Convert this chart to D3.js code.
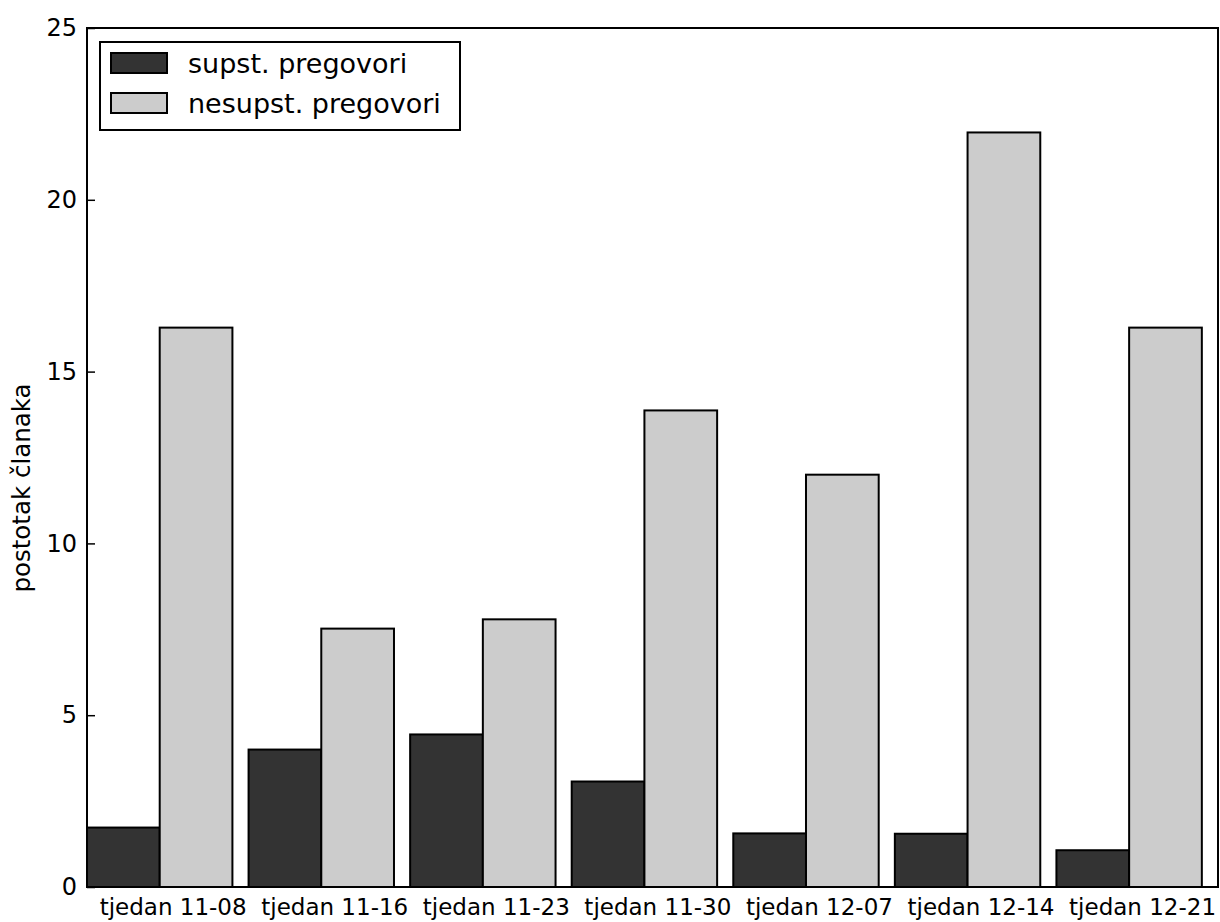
<!DOCTYPE html>
<html><head><meta charset="utf-8">
<script src="https://cdn.jsdelivr.net/npm/d3@7"></script>
<style>body{margin:0;background:#fff}svg{display:block}text{font-family:"DejaVu Sans",sans-serif;fill:#000}</style>
</head><body>
<svg id="c" width="1220" height="922"></svg>
<script>
const categories = ["tjedan 11-08","tjedan 11-16","tjedan 11-23","tjedan 11-30","tjedan 12-07","tjedan 12-14","tjedan 12-21"];
const seriesNames = ["supst. pregovori","nesupst. pregovori"];
const supst = [1.73, 4.0, 4.44, 3.07, 1.56, 1.55, 1.07];
const nesupst = [16.28, 7.52, 7.79, 13.87, 12.0, 21.96, 16.28];
const yTicks = [0,5,10,15,20,25];
const colors = ["#333333","#cccccc"];

const svg = d3.select("#c");
const L=87, R=1218, T=28, B=887;
const x = d3.scaleLinear().domain([0,7]).range([L,R]);
const y = d3.scaleLinear().domain([0,25]).range([B,T]);
const bw = 0.45;
const labelOffset = 0.53;
const series = [supst, nesupst];

series.forEach((vals,s)=>{
  svg.append("g").selectAll("rect").data(vals).join("rect")
    .attr("x",(d,i)=>x(i+s*bw))
    .attr("width",(d,i)=>x(i+s*bw+bw)-x(i+s*bw))
    .attr("y",d=>y(d))
    .attr("height",d=>y(0)-y(d))
    .attr("fill",colors[s]).attr("stroke","#000").attr("stroke-width",2);
});

// frame
svg.append("rect").attr("x",L).attr("y",T).attr("width",R-L).attr("height",B-T)
  .attr("fill","none").attr("stroke","#000").attr("stroke-width",2);

// y axis
const yAxis = d3.axisLeft(y).tickValues(yTicks).tickSizeInner(-8).tickSizeOuter(0).tickPadding(10).tickFormat(d3.format("d"));
const gy = svg.append("g").attr("transform",`translate(${L},0)`).call(yAxis);
gy.select(".domain").remove();
gy.selectAll("line").attr("stroke","#000").attr("stroke-width",1.5);
gy.selectAll("text").style("font-size","24px").attr("fill","#000").attr("font-family","DejaVu Sans");

// x axis
const xAxis = d3.axisBottom(x).tickValues(categories.map((c,i)=>i+labelOffset)).tickSize(0).tickPadding(12).tickFormat((d,i)=>categories[i]);
const gx = svg.append("g").attr("transform",`translate(0,${B})`).call(xAxis);
gx.select(".domain").remove();
gx.selectAll("text").style("font-size","23px").attr("fill","#000").attr("font-family","DejaVu Sans");

// y label
svg.append("text").attr("transform","translate(30,488) rotate(-90)")
  .attr("text-anchor","middle").style("font-size","24.5px").text("postotak članaka");

// legend
const lg = svg.append("g");
lg.append("rect").attr("x",100).attr("y",42).attr("width",360).attr("height",88)
  .attr("fill","#fff").attr("stroke","#000").attr("stroke-width",2);
seriesNames.forEach((n,i)=>{
  const cy = 63 + i*40;
  lg.append("rect").attr("x",111).attr("y",cy-10).attr("width",56).attr("height",20)
    .attr("fill",colors[i]).attr("stroke","#000").attr("stroke-width",2);
  lg.append("text").attr("x",188).attr("y",cy+1).attr("dy","0.35em").style("font-size","27px").text(n);
});
</script>
</body></html>
